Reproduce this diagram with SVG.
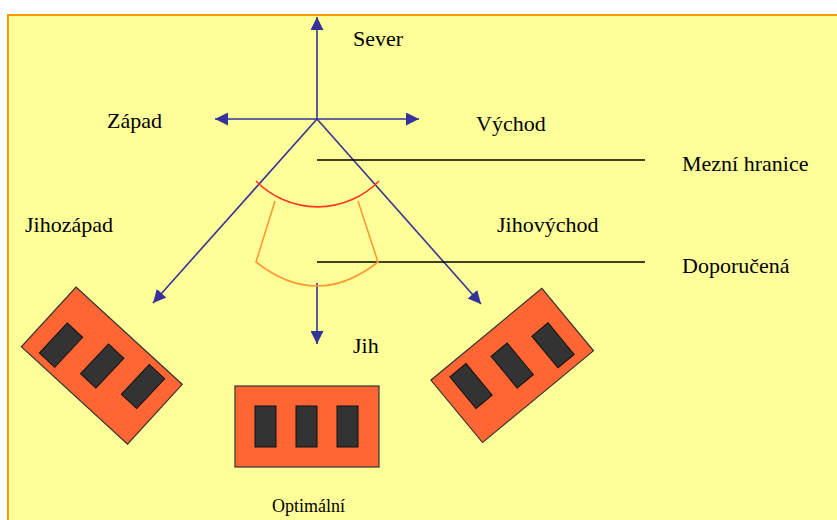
<svg xmlns="http://www.w3.org/2000/svg" width="837" height="520" viewBox="0 0 837 520">
<defs>
<style>
.lbl{font-family:"Liberation Serif","Times New Roman",serif;font-size:22px;fill:#000}
.small{font-size:18px}
.ax{stroke:#333399;stroke-width:1.6;fill:none}
.lim{stroke:#000;stroke-width:1.3}
.box{fill:#FF6633;stroke:#333;stroke-width:1.2}
.win{fill:#333333;stroke:#111;stroke-width:1}
</style>
<marker id="ah" markerUnits="userSpaceOnUse" markerWidth="14" markerHeight="13" refX="13" refY="6.5" orient="auto">
<path d="M0,0 L13,6.5 L0,13 z" fill="#333399"/>
</marker>
</defs>
<rect x="0" y="0" width="837" height="520" fill="#fff"/>
<rect x="8" y="15" width="900" height="600" fill="#FFFF99" stroke="#FF9900" stroke-width="2"/>

<g id="connectors">
<line class="ax" x1="317" y1="119" x2="317" y2="17" marker-end="url(#ah)"/>
<line class="ax" x1="317" y1="119" x2="215" y2="119" marker-end="url(#ah)"/>
<line class="ax" x1="317" y1="119" x2="419" y2="119" marker-end="url(#ah)"/>
<line class="ax" x1="317" y1="119" x2="153" y2="303" marker-end="url(#ah)"/>
<line class="ax" x1="317" y1="119" x2="481" y2="304" marker-end="url(#ah)"/>
<line class="ax" x1="317" y1="283" x2="317" y2="344" marker-end="url(#ah)"/>
<line class="lim" x1="317" y1="160" x2="645" y2="160"/>
<line class="lim" x1="317" y1="262" x2="645" y2="262"/>
</g>

<g id="zone-limit">
<path d="M256,181 A86,86 0 0 0 379,181" fill="none" stroke="#FF3322" stroke-width="1.6"/>
</g>
<g id="zone-recommended">
<path d="M275,201 L256,262 Q317,310 378,262 L358,201" fill="none" stroke="#FF9933" stroke-width="1.6"/>
</g>

<g id="house-sw">
<rect class="box" x="29.8" y="325.1" width="144" height="81" transform="rotate(42.5 101.8 365.6)"/>
<rect class="win" x="50.5" y="324.7" width="21" height="41" transform="rotate(43 61 345.2)"/>
<rect class="win" x="91.7" y="345.5" width="21" height="41" transform="rotate(43 102.2 366)"/>
<rect class="win" x="132.5" y="366" width="21" height="41" transform="rotate(43 143 386.5)"/>
</g>

<g id="house-s">
<rect class="box" x="235" y="386" width="144" height="81"/>
<rect class="win" x="255" y="406" width="21" height="41"/>
<rect class="win" x="296" y="406" width="21" height="41"/>
<rect class="win" x="337" y="406" width="21" height="41"/>
</g>

<g id="house-se">
<rect class="box" x="440.2" y="324.9" width="144" height="81" transform="rotate(-39.6 512.2 365.4)"/>
<rect class="win" x="460.5" y="365.5" width="21" height="41" transform="rotate(-39.6 471 386)"/>
<rect class="win" x="501.7" y="345" width="21" height="41" transform="rotate(-39.6 512.2 365.5)"/>
<rect class="win" x="542.5" y="324.8" width="21" height="41" transform="rotate(-39.6 553 345.3)"/>
</g>

<g id="labels">
<text class="lbl" x="353" y="46">Sever</text>
<text class="lbl" x="107" y="128">Západ</text>
<text class="lbl" x="476" y="131">Východ</text>
<text class="lbl" x="25" y="232">Jihozápad</text>
<text class="lbl" x="497" y="232">Jihovýchod</text>
<text class="lbl" x="682" y="171">Mezní hranice</text>
<text class="lbl" x="682" y="273">Doporučená</text>
<text class="lbl" x="353" y="353">Jih</text>
<text class="lbl small" x="272" y="512">Optimální</text>
</g>
</svg>
